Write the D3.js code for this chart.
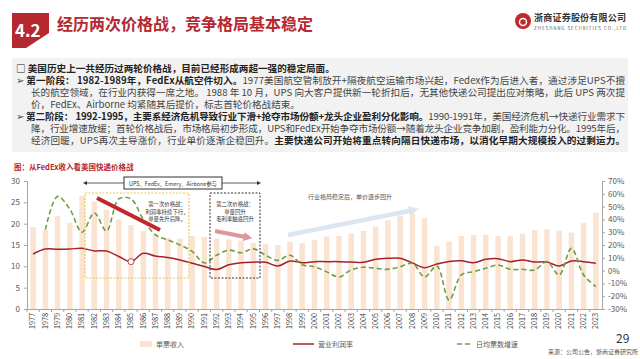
<!DOCTYPE html>
<html>
<head>
<meta charset="utf-8">
<script src="https://cdn.jsdelivr.net/npm/d3@7"></script>
<style>
  body { margin: 0; background: #fff; }
  svg text { font-family: "Noto Sans CJK SC", "Noto Sans", sans-serif; }
</style>
</head>
<body>
<div id="chart-area"></div>
<script>
// data
const years = d3.range(1977, 2024).map(String);
const unitRevenue = [19.2, 18.5, 21.8, 20.2, 26.5, 25.2, 23.3, 21.0, 19.7, 18.3,
  17.3, 16.6, 16.5, 17.1, 16.9, 16.5, 16.3, 16.0, 15.5, 15.2,
  15.0, 15.8, 15.4, 16.2, 17.0, 17.1, 17.7, 18.3, 19.3, 20.8,
  21.9, 22.3, 21.3, 14.8, 15.8, 17.1, 17.4, 17.4, 17.1, 17.1,
  17.7, 18.5, 18.7, 18.4, 17.9, 20.2, 22.6];
const opMargin = [13.0, 16.8, 16.7, 16.9, 17.4, 15.4, 15.3, 11.0, 7.0, 13.5,
  11.4, 10.2, 8.3, 5.8, 3.2, 0.8, 4.6, 6.2, 6.6, 6.5,
  3.6, 7.5, 6.2, 7.0, 7.0, 7.0, 6.8, 6.5, 8.8, 9.6,
  9.6, 6.0, 2.3, 5.2, 7.2, 7.7, 6.2, 8.8, 9.3, 7.0,
  8.3, 6.7, 6.7, 3.6, 7.5, 7.0, 5.7];
const volGrowth = [null, 32, 58, 48, 30, 45, 31, 56, 56, 40,
  28, 24, 20, 15, 6, 12, 16, 14, 17, 12,
  8, 12, 4.5, 3, -1, -5, 0.5, 2.6, 1.8, 1,
  3, 5.7, -5, 3.6, -23, -3.4, -0.8, 1.8, 4.4, 1,
  1, 0.5, 7, -3.4, 17.4, -3.4, -12.5];
const leftTicks = [0, 5, 10, 15, 20, 25, 30];
const rightTicks = [-30, -20, -10, 0, 10, 20, 30, 40, 50, 60, 70];
const legendNames = ["单票收入", "营业利润率", "日均票数增速"];

const red = "#b5282f", barColor = "#fbe3d2", lineRed = "#a3232c", green = "#6e9f45";

const width = 640, height = 359;
const svg = d3.select("#chart-area").append("svg")
  .attr("width", width).attr("height", height);

// header
svg.append("polygon")
  .attr("points", "12,13 49,13 49,33 26,48 12,48")
  .attr("fill", red);
svg.append("text").attr("x", 15).attr("y", 37)
  .attr("fill", "#fff").attr("font-size", 17).attr("font-weight", "bold")
  .attr("font-family", "Liberation Sans, Arial").text("4.2");
svg.append("text").attr("x", 57).attr("y", 30)
  .attr("fill", red).attr("font-size", 16).attr("font-weight", "bold")
  .text("经历两次价格战，竞争格局基本稳定");

// logo
svg.append("circle").attr("cx", 523).attr("cy", 21).attr("r", 8).attr("fill", "#c0282e");
svg.append("circle").attr("cx", 523).attr("cy", 22).attr("r", 3.5).attr("fill", "none")
  .attr("stroke", "#fff").attr("stroke-width", 1.5);
svg.append("text").attr("x", 534).attr("y", 21).attr("font-size", 9).attr("font-weight", "bold")
  .attr("fill", "#333").attr("textLength", 92).text("浙商证券股份有限公司");
svg.append("text").attr("x", 534).attr("y", 30).attr("font-size", 4.5)
  .attr("fill", "#555").attr("textLength", 92).attr("font-family", "Liberation Serif")
  .text("ZHESHANG SECURITIES CO.,LTD");

// text box
svg.append("rect").attr("x", 12).attr("y", 58).attr("width", 616).attr("height", 94)
  .attr("fill", "#f2f2f2");

const lines = [
  {y: 72, x: 16, len: null, parts: [["□ 美国历史上一共经历过两轮价格战，目前已经形成两超一强的稳定局面。", true]]},
  {y: 84, x: 16, len: 609, parts: [["➢ ", false], ["第一阶段： 1982-1989年，FedEx从航空件切入。", true], ["1977美国航空管制放开+隔夜航空运输市场兴起，Fedex作为后进入者，通过涉足UPS不擅", false]]},
  {y: 96, x: 31, len: 594, parts: [["长的航空领域，在行业内获得一席之地。 1988 年 10 月，UPS 向大客户提供新一轮折扣后，无其他快递公司提出应对策略，此后 UPS 两次提", false]]},
  {y: 108, x: 31, len: null, parts: [["价，FedEx、Airborne 均紧随其后提价，标志首轮价格战结束。", false]]},
  {y: 120, x: 16, len: 609, parts: [["➢ ", false], ["第二阶段： 1992-1995，主要系经济危机导致行业下滑+抢夺市场份额+龙头企业盈利分化影响。", true], ["1990-1991年，美国经济危机→快递行业需求下", false]]},
  {y: 132, x: 31, len: 594, parts: [["降，行业增速放缓；首轮价格战后，市场格局初步形成，UPS和FedEx开始争夺市场份额→随着龙头企业竞争加剧，盈利能力分化。1995年后，", false]]},
  {y: 144, x: 31, len: 594, parts: [["经济回暖，UPS再次主导涨价，行业单价逐渐企稳回升。", false], ["主要快递公司开始将重点转向隔日快递市场，以消化早期大规模投入的过剩运力。", true]]}
];
lines.forEach(l => {
  const t = svg.append("text").attr("x", l.x).attr("y", l.y)
    .attr("font-size", 9.6).attr("fill", "#333");
  if (l.len) t.attr("textLength", l.len).attr("lengthAdjust", "spacing");
  l.parts.forEach(p => {
    t.append("tspan").attr("font-weight", p[1] ? "bold" : "normal")
      .attr("fill", p[1] ? "#222" : "#444").text(p[0]);
  });
});

// chart title
svg.append("text").attr("x", 14).attr("y", 170).attr("font-size", 7.5)
  .attr("font-weight", "bold").attr("fill", red).text("图：从FedEx收入看美国快递价格战");

// scales
const x = d3.scaleBand().domain(years).range([27, 602])
  .paddingInner(0.55).paddingOuter(0.275);
const y = d3.scaleLinear().domain([0, 30]).range([309, 181]);
const y2 = d3.scaleLinear().domain([-30, 70]).range([309, 181]);
const cx = d => x(d) + x.bandwidth() / 2;

// bars
svg.append("g").selectAll("rect").data(years).enter().append("rect")
  .attr("x", d => x(d))
  .attr("y", (d, i) => y(unitRevenue[i]))
  .attr("width", x.bandwidth())
  .attr("height", (d, i) => y(0) - y(unitRevenue[i]))
  .attr("fill", barColor);

// axes
const axisColor = "#a6a6a6";
const gl = svg.append("g").attr("transform", "translate(27,0)")
  .call(d3.axisLeft(y).tickValues(leftTicks).tickSize(3).tickPadding(4));
const gr = svg.append("g").attr("transform", "translate(602,0)")
  .call(d3.axisRight(y2).tickValues(rightTicks).tickSize(3).tickPadding(3)
    .tickFormat(d => d + "%"));
[gl, gr].forEach(g => {
  g.selectAll("path, line").attr("stroke", axisColor);
  g.selectAll("text").attr("fill", "#595959").attr("font-size", 8)
    .attr("font-family", "Liberation Sans, Arial");
});

const gx = svg.append("g").attr("transform", "translate(0,309)")
  .call(d3.axisBottom(x).tickSize(0).tickPadding(0));
gx.select(".domain").attr("stroke", axisColor);
gx.selectAll("text")
  .attr("transform", "rotate(-90)")
  .attr("text-anchor", "end")
  .attr("x", -4).attr("y", 0).attr("dy", "0.32em")
  .attr("fill", "#404040").attr("font-size", 7.2)
  .attr("font-family", "Liberation Sans, Arial");
// category boundary ticks
svg.append("g").selectAll("line").data(years).enter().append("line")
  .attr("x1", d => x(d) - x.step() * x.paddingInner() / 2)
  .attr("x2", d => x(d) - x.step() * x.paddingInner() / 2)
  .attr("y1", 309).attr("y2", 312).attr("stroke", axisColor);

// lines
const marginLine = d3.line().x(d => cx(d.year)).y(d => y2(d.v)).curve(d3.curveCatmullRom);
svg.append("path")
  .datum(years.map((yr, i) => ({year: yr, v: opMargin[i]})))
  .attr("d", marginLine).attr("fill", "none")
  .attr("stroke", lineRed).attr("stroke-width", 1.5);

svg.append("path")
  .datum(years.map((yr, i) => ({year: yr, v: volGrowth[i]})).filter(d => d.v !== null))
  .attr("d", marginLine).attr("fill", "none")
  .attr("stroke", green).attr("stroke-width", 1.6).attr("stroke-dasharray", "5,3");

// circle on 1985 margin dip
svg.append("circle").attr("cx", cx("1985")).attr("cy", y2(opMargin[8])).attr("r", 3)
  .attr("fill", "#fff").attr("stroke", lineRed).attr("stroke-width", 0.8);

// annotations
const defs = svg.append("defs");
function marker(id, color, size) {
  defs.append("marker").attr("id", id).attr("viewBox", "0 0 10 10")
    .attr("refX", 5).attr("refY", 5).attr("markerWidth", size).attr("markerHeight", size)
    .attr("orient", "auto-start-reverse")
    .append("path").attr("d", "M0,0L10,5L0,10z").attr("fill", color);
}
marker("arrBlack", "#333", 5);
marker("arrPink", "#e0959a", 2.2);
marker("arrBlue", "#dce6f0", 2.2);

// participants box with arrows
svg.append("line").attr("x1", 124).attr("y1", 183).attr("x2", 85).attr("y2", 183)
  .attr("stroke", "#333").attr("stroke-width", 0.8).attr("marker-end", "url(#arrBlack)");
svg.append("line").attr("x1", 222).attr("y1", 183).attr("x2", 259).attr("y2", 183)
  .attr("stroke", "#333").attr("stroke-width", 0.8).attr("marker-end", "url(#arrBlack)");
svg.append("rect").attr("x", 124).attr("y", 177).attr("width", 98).attr("height", 12)
  .attr("fill", "#fff").attr("stroke", "#333").attr("stroke-width", 1);
svg.append("text").attr("x", 129).attr("y", 185.5)
  .attr("font-size", 5.5).attr("fill", "#333")
  .attr("textLength", 88).attr("lengthAdjust", "spacingAndGlyphs")
  .text("UPS、FedEx、Emery、Airbone参与");

// first price war box
svg.append("rect").attr("x", 85).attr("y", 193).attr("width", 104).attr("height", 85)
  .attr("fill", "none").attr("stroke", "#eac84a").attr("stroke-width", 1.2)
  .attr("stroke-dasharray", "2,1.5");
["第一次价格战：", "利润率持续下行，", "单量先升后降。"].forEach((s, i) => {
  svg.append("text").attr("x", 167).attr("y", 206 + i * 7.5).attr("text-anchor", "middle")
    .attr("font-size", 5.4).attr("fill", "#333").text(s);
});
svg.append("line").attr("x1", 97).attr("y1", 198).attr("x2", 160).attr("y2", 230)
  .attr("stroke", "#c3262c").attr("stroke-width", 4);

// second price war box
svg.append("rect").attr("x", 210).attr("y", 193).attr("width", 50).attr("height", 85)
  .attr("fill", "none").attr("stroke", "#333").attr("stroke-width", 1)
  .attr("stroke-dasharray", "2,1.5");
["第二次价格战：", "单量回升", "毛利率触底回升"].forEach((s, i) => {
  svg.append("text").attr("x", 235).attr("y", 206 + i * 7.5).attr("text-anchor", "middle")
    .attr("font-size", 5.4).attr("fill", "#333").text(s);
});
svg.append("line").attr("x1", 215).attr("y1", 231).attr("x2", 248).attr("y2", 237.5)
  .attr("stroke", "#e0959a").attr("stroke-width", 4).attr("marker-end", "url(#arrPink)");

// recovery arrow
svg.append("line").attr("x1", 288).attr("y1", 235).attr("x2", 414).attr("y2", 210)
  .attr("stroke", "#dce6f0").attr("stroke-width", 4.5).attr("marker-end", "url(#arrBlue)");
svg.append("text").attr("x", 308).attr("y", 199).attr("font-size", 6)
  .attr("fill", "#555").text("行业格局稳定后，单价逐步回升");

// legend
const lg = svg.append("g");
lg.append("rect").attr("x", 140).attr("y", 341).attr("width", 12).attr("height", 6).attr("fill", barColor);
lg.append("line").attr("x1", 293).attr("x2", 314).attr("y1", 344).attr("y2", 344)
  .attr("stroke", lineRed).attr("stroke-width", 1.5);
lg.append("line").attr("x1", 457).attr("x2", 472).attr("y1", 344).attr("y2", 344)
  .attr("stroke", green).attr("stroke-width", 1.6).attr("stroke-dasharray", "5,3");
[[156, legendNames[0]], [318, legendNames[1]], [476, legendNames[2]]].forEach(p => {
  lg.append("text").attr("x", p[0]).attr("y", 347).attr("font-size", 7)
    .attr("fill", "#595959").text(p[1]);
});

// footer
svg.append("text").attr("x", 616).attr("y", 343).attr("font-size", 12)
  .attr("fill", "#333").attr("font-family", "Liberation Sans, Arial").text("29");
svg.append("text").attr("x", 548).attr("y", 354).attr("font-size", 6)
  .attr("fill", "#555").text("来源：公司公告，浙商证券研究所");
</script>
</body>
</html>
